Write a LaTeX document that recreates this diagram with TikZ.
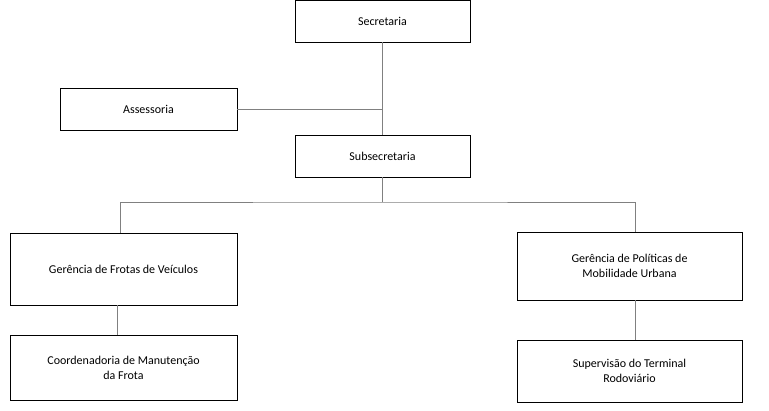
\documentclass[tikz,border=0pt]{standalone}
\usepackage{fontspec}
\setmainfont{Carlito}
\begin{document}
\begin{tikzpicture}[x=1pt,y=-1pt]
  \tikzstyle{box}=[draw, line width=0.8pt, align=center, inner sep=0pt, font=\fontsize{12}{15}\selectfont]
  \useasboundingbox (0,0) rectangle (769,410);
  \node [box, minimum width=175, minimum height=42] (sec) at (382.5,21) {Secretaria};
  \node [box, minimum width=177, minimum height=42] (ass) at (148.5,109) {Assessoria};
  \node [box, minimum width=175, minimum height=42] (sub) at (382.5,156) {Subsecretaria};
  \node [box, minimum width=227, minimum height=72] (ger1) at (123.5,269) {Gerência de Frotas de Veículos};
  \node [box, minimum width=227, minimum height=65] (coo) at (123.5,367.5) {Coordenadoria de Manutenção\\da Frota};
  \node [box, minimum width=225, minimum height=68] (ger2) at (629.5,266) {Gerência de Políticas de\\Mobilidade Urbana};
  \node [box, minimum width=225, minimum height=62] (sup) at (629.5,371) {Supervisão do Terminal\\Rodoviário};
  % connectors
  \draw [gray] (sec) -- (sub);
  \draw [gray] (ass.east) -- (ass.east -| sec);
  \coordinate (split) at (382.5,202);
  \draw [gray] (sub) -- (split);
  \draw [gray] (ger1.north -| 120,0) |- (split) -| (ger2.north -| 635,0);
  \draw [gray] (ger1.south -| 117,0) -- (coo.north -| 117,0);
  \draw [gray] (ger2.south -| 635,0) -- (sup.north -| 635,0);
\end{tikzpicture}
\end{document}
